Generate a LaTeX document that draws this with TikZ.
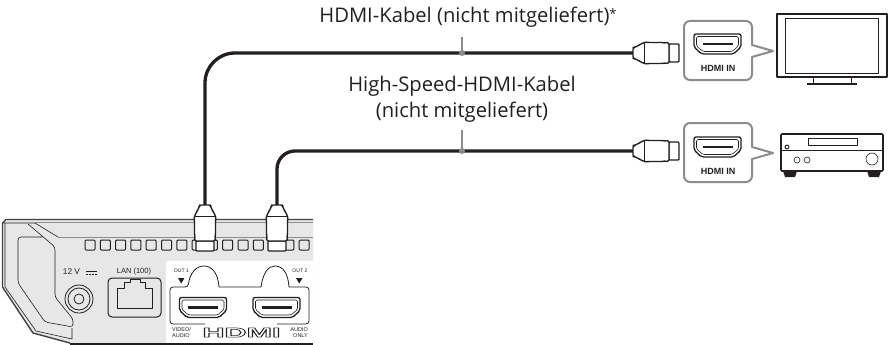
\documentclass[tikz,border=0pt]{standalone}
\usepackage{fontspec}
\setmainfont{Open Sans}
\newfontfamily\panelfont{Liberation Sans}
\definecolor{cableblack}{HTML}{231F20}
\definecolor{panelgray}{HTML}{E6E7E6}
\definecolor{boxgray}{HTML}{8A8C8E}
\begin{document}
\begin{tikzpicture}[x=1pt,y=-1pt,line join=round,
  every node/.style={inner sep=0pt,text=cableblack},
  caption/.style={font=\fontsize{20.2}{25}\selectfont,align=center},
  panel/.style={font=\panelfont\fontsize{#1}{6.3}\selectfont},
  cable/.style={line width=3.3pt,draw=cableblack},
  leader/.style={line width=1.2pt,draw=boxgray},
  inbox/.style={line width=2pt,draw=boxgray,fill=white},
  thinline/.style={line width=0.6pt,draw=cableblack},
  midline/.style={line width=1pt,draw=cableblack},
  plugbody/.style={line width=1.4pt,draw=cableblack,fill=white}]
\useasboundingbox (0,0) rectangle (888,345);
% rear panel of the player
\fill[panelgray] (2,222) -- (5,219) -- (313,219) -- (313,344) -- (70,344) -- (33,333) -- (2,287) -- cycle;
\fill[white] (165.5,261) rectangle (313,343);
\draw[line width=1.4pt,draw=cableblack!85] (313,219.5) -- (6,219.5) -- (2.5,223) -- (2.5,287) -- (33,333) -- (70,343);
\draw[line width=1.5pt,draw=cableblack] (70,344) -- (313,344);
\draw[thinline] (5,223) -- (5,287) -- (36,331) -- (72,339) -- (72,328);
\draw[thinline] (3,223) -- (35,223) -- (58,237);
\draw[line width=0.8pt,draw=boxgray] (35,222.5) -- (313,222.5);
\draw[line width=0.5pt,draw=boxgray] (58,237) -- (313,237);
\draw[thinline,rounded corners=3pt] (28,224) -- (55,247) -- (55,297) -- (73,319) -- (73,327) -- (45,322) -- (18,283) -- (18,237) -- (42,237);
\foreach \i in {0,...,14}
  \draw[midline,rounded corners=1pt] (85+15.3*\i,240) rectangle ++(10,10);
\node[panel=8.3,anchor=base] (powerlabel) at (71.5,274) {12 V};
\draw[thinline] (86,271) -- (97,271);
\draw[thinline,dash pattern=on 2pt off 1pt] (86,274) -- (97,274);
\foreach \r in {14,11,5}
  \draw[line width=0.8pt,draw=cableblack] (79,299) circle (\r);
\node[panel=7.5,anchor=base] (lanlabel) at (134,273) {LAN (100)};
\draw[midline,rounded corners=4pt] (108,278) rectangle (161,317);
\draw[thinline] (117,308) -- (117,288) -- (124,288) -- (124,282) -- (130,282) -- (130,279) -- (140,279) -- (140,282) -- (145,282) -- (145,288) -- (152,288) -- (152,308) -- cycle;
% output block
\draw[line width=0.8pt,draw=cableblack,rounded corners=3pt] (205,324) -- (170,324) -- (170,287) -- (188,287) [sharp corners] .. controls (190,273) and (196,266) .. (204,266) .. controls (212,266) and (218,273) .. (219,287) -- (261,287) .. controls (263,273) and (268,266) .. (275,266) .. controls (283,266) and (288,273) .. (289,287) [rounded corners=3pt] -- (309,287) -- (309,324) -- (277,324);
\node[panel=5.1,anchor=center] (outonelabel) at (181.5,271) {OUT 1};
\node[panel=5.1,anchor=center] (outtwolabel) at (300,271) {OUT 2};
\fill[cableblack] (178,278) -- (184.5,278) -- (181.2,283.5) -- cycle;
\fill[cableblack] (296,278) -- (302.5,278) -- (299.2,283.5) -- cycle;
\node[panel=5.5,anchor=north west,align=left] (videolabel) at (172,327.5) {VIDEO/\\AUDIO};
\node[panel=5.5,anchor=north east,align=right] (audiolabel) at (308,327.5) {AUDIO\\ONLY};
\node[font=\panelfont\bfseries\fontsize{13}{13}\selectfont,xscale=2.35,yscale=1.05] (logolabel) at (241.5,332.5) {\special{pdf:code 1 Tr 0.5 w}HDMI\special{pdf:code 0 Tr}};
% boxes at the far end
\foreach \y in {21,123}
  \draw[inbox] (684,\y+30) [rounded corners=6pt] -- (684,\y) -- (752,\y) [sharp corners] -- (752,\y+24) -- (773,\y+30) -- (752,\y+36) [rounded corners=6pt] -- (752,\y+59) -- (684,\y+59) -- cycle;
\node[font=\panelfont\bfseries\fontsize{9}{9}\selectfont] (tvinlabel) at (718,68) {HDMI IN};
\node[font=\panelfont\bfseries\fontsize{9}{9}\selectfont] (ampinlabel) at (718,171) {HDMI IN};
\foreach \x/\y in {203/307.5,276.5/307.5,717.5/44,717.5/147} {
  \draw[line width=1.3pt,draw=cableblack,rounded corners=2pt] (\x-23.5,\y-10) -- (\x+23.5,\y-10) -- (\x+23.5,\y+3) -- (\x+16,\y+10) -- (\x-16,\y+10) -- (\x-23.5,\y+3) -- cycle;
  \draw[thinline,rounded corners=1.5pt] (\x-21,\y-7.5) -- (\x+21,\y-7.5) -- (\x+21,\y+2) -- (\x+14.5,\y+7.5) -- (\x-14.5,\y+7.5) -- (\x-21,\y+2) -- cycle;
  \draw[line width=2.6pt,draw=cableblack] (\x-15,\y) -- (\x+15,\y);
}
% television
\draw[line width=2pt,draw=cableblack] (776.5,14) rectangle (887,77);
\draw[midline] (785,19) rectangle (878,73);
\draw[midline] (813,77) -- (813,83) (851,77) -- (851,83);
\draw[line width=2pt,draw=cableblack] (807,84) -- (857,84);
% receiver
\draw[line width=1.6pt,draw=cableblack,rounded corners=1pt] (781,134) rectangle (883,171);
\fill[cableblack] (783,171) -- (797,171) -- (795,177) -- (785,177) -- cycle;
\fill[cableblack] (867,171) -- (881,171) -- (879,177) -- (869,177) -- cycle;
\draw[midline] (781,150) -- (883,150);
\draw[midline] (808,138) rectangle (857,145);
\draw[midline] (787,147) circle (2);
\foreach \x in {797,807}
  \draw[thinline] (\x,160) circle (3);
\draw[thinline] (872,159) circle (6);
% cables, captions and leaders
\coordinate (outone) at (205,205);
\coordinate (outtwo) at (277,205);
\coordinate (plugtv) at (633,53);
\coordinate (plugamp) at (633,151);
\coordinate (dotone) at (462,53);
\coordinate (dottwo) at (462,151);
\coordinate (tickone) at (462,37);
\coordinate (ticktwo) at (462,130);
\draw[cable,rounded corners=30pt] (outone) |- (plugtv);
\draw[cable,rounded corners=18pt] (outtwo) |- (plugamp);
\node[caption,anchor=base] (captionone) at (468,23) {HDMI-Kabel (nicht mitgeliefert)\raisebox{4pt}{\fontsize{13}{13}\selectfont*}};
\node[caption,anchor=base] (captiontwo) at (462,117) {High-Speed-HDMI-Kabel\\(nicht mitgeliefert)};
\draw[leader] (tickone) -- (dotone);
\draw[leader] (ticktwo) -- (dottwo);
\fill[boxgray] (dotone) circle (3);
\fill[boxgray] (dottwo) circle (3);
% plugs
\foreach \px/\py/\turn in {633/53/0,633/151/0,205/205/-90,277/205/-90} {
  \begin{scope}[shift={(\px,\py)},rotate=\turn]
    \draw[plugbody,rounded corners=1pt] (36,-9) rectangle (46,9);
    \draw[plugbody,rounded corners=1.5pt] (0,-5.5) -- (1.5,-5.5) -- (11,-10.5) -- (15,-11) -- (18,-10) -- (21,-11) -- (24,-10) -- (27,-11) -- (30,-10) -- (36,-10.5) -- (36,10.5) -- (30,10) -- (27,11) -- (24,10) -- (21,11) -- (18,10) -- (15,11) -- (11,10.5) -- (1.5,5.5) -- (0,5.5) -- cycle;
    \draw[thinline] (11,-10.5) -- (11,10.5);
  \end{scope}
}
\end{tikzpicture}
\end{document}
